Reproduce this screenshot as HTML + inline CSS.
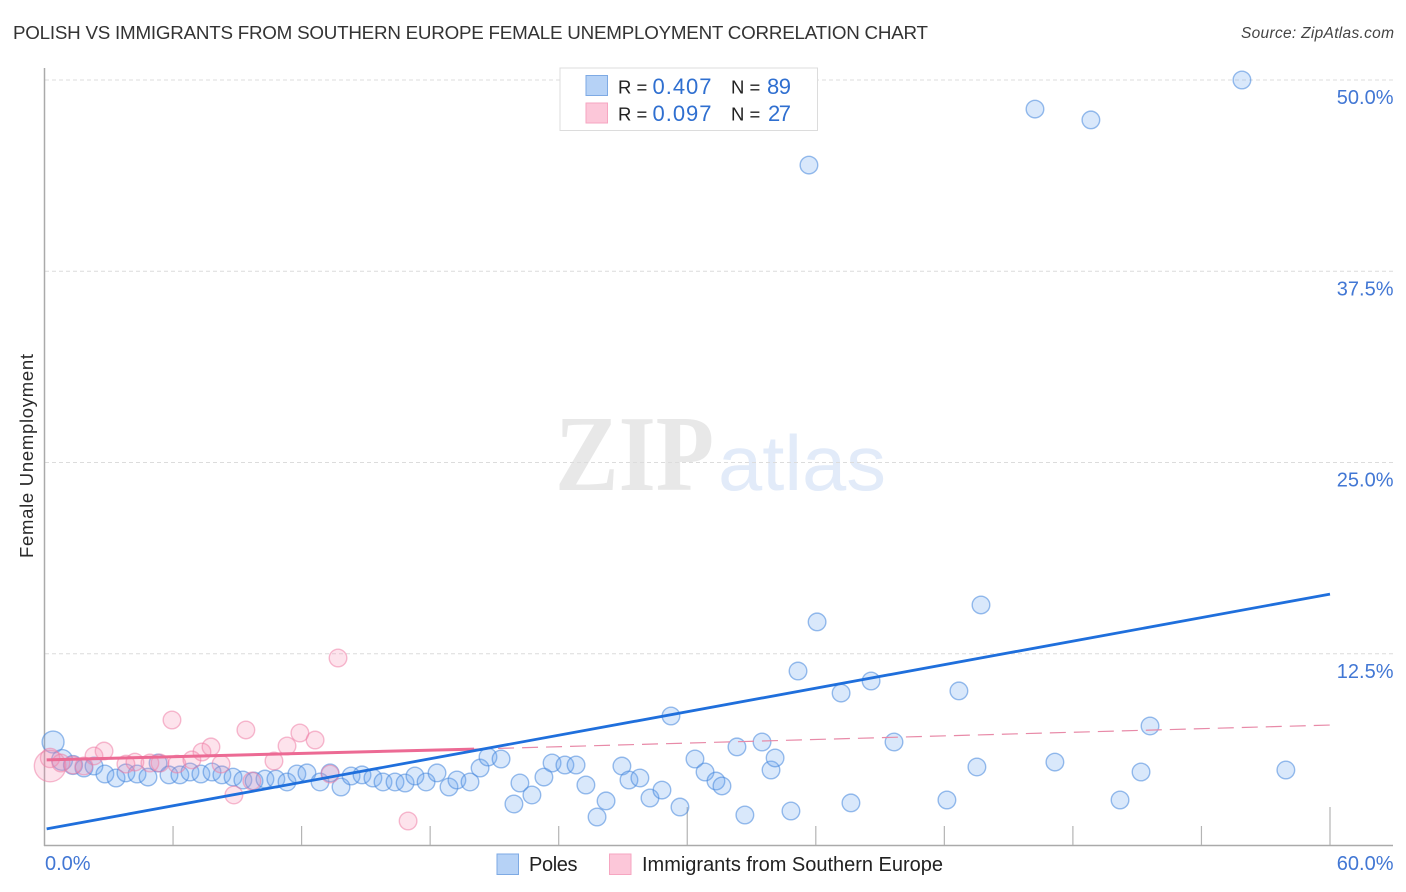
<!DOCTYPE html>
<html lang="en">
<head>
<meta charset="utf-8">
<title>Polish vs Immigrants from Southern Europe Female Unemployment Correlation Chart</title>
<style>
html,body{margin:0;padding:0;background:#fff;width:1406px;height:892px;overflow:hidden}
svg{display:block;font-family:"Liberation Sans",sans-serif}
</style>
</head>
<body>
<svg id="chart" xmlns="http://www.w3.org/2000/svg" width="1406" height="892" viewBox="0 0 1406 892">
  <rect x="0" y="0" width="1406" height="892" fill="#fff"/>
  <text x="13" y="39" font-size="18.800" fill="#333" textLength="915" lengthAdjust="spacing">POLISH VS IMMIGRANTS FROM SOUTHERN EUROPE FEMALE UNEMPLOYMENT CORRELATION CHART</text>
  <text x="1241" y="38" font-size="15.500" font-style="italic" fill="#444" textLength="153" lengthAdjust="spacing">Source: ZipAtlas.com</text>
  <g>
    <text x="555" y="490" font-family="'Liberation Serif',serif" font-weight="bold" font-size="108" fill="#e8e8e8" textLength="159" lengthAdjust="spacingAndGlyphs">ZIP</text>
    <text x="718" y="490" font-size="78" fill="#e2ebf9" textLength="168" lengthAdjust="spacingAndGlyphs">atlas</text>
  </g>
  <g id="grid"></g>
  <g id="axes"></g>
  <g id="poles-points"></g>
  <g id="immigrants-points"></g>
  <g id="trends"></g>
  <text transform="translate(33,558) rotate(-90)" font-size="18.500" fill="#2b2b2b" textLength="204" lengthAdjust="spacing">Female Unemployment</text>

  <g>
    <rect x="560" y="68" width="257.500" height="62.500" fill="#fff" stroke="#dcdcdc" stroke-width="1"/>
    <rect x="586" y="75.500" width="21.500" height="20" fill="#b6d2f6" stroke="#7eaae4" stroke-width="1"/>
    <rect x="586" y="103" width="21.500" height="20" fill="#fcc7d9" stroke="#f6a6c1" stroke-width="1"/>
    <text x="618" y="93.500" font-size="18.500" fill="#222">R =</text>
    <text x="652.500" y="94" font-size="22" fill="#2f6fd0" textLength="59" lengthAdjust="spacing">0.407</text>
    <text x="731" y="93.500" font-size="18.500" fill="#222">N =</text>
    <text x="767" y="94" font-size="22" fill="#2f6fd0" textLength="24" lengthAdjust="spacing">89</text>
    <text x="618" y="120.500" font-size="18.500" fill="#222">R =</text>
    <text x="652.500" y="121" font-size="22" fill="#2f6fd0" textLength="59" lengthAdjust="spacing">0.097</text>
    <text x="731" y="120.500" font-size="18.500" fill="#222">N =</text>
    <text x="768" y="121" font-size="22" fill="#2f6fd0" textLength="23" lengthAdjust="spacing">27</text>
  </g>

  <g>
    <rect x="497" y="854" width="21.500" height="20.500" fill="#b6d2f6" stroke="#7eaae4" stroke-width="1"/>
    <text x="529" y="871" font-size="20" fill="#222" textLength="48.500" lengthAdjust="spacing">Poles</text>
    <rect x="609.500" y="854" width="21.500" height="20.500" fill="#fcc7d9" stroke="#f6a6c1" stroke-width="1"/>
    <text x="642" y="871" font-size="20" fill="#222" textLength="301" lengthAdjust="spacing">Immigrants from Southern Europe</text>
  </g>
</svg>
<script>
// Percent values.
const xTicks = [0, 6, 12, 18, 24, 30, 36, 42, 48, 54, 60];
const yTicks = [12.5, 25, 37.5, 50];
const yTickLabels = ['12.5%', '25.0%', '37.5%', '50.0%'];
const xEndLabels = ['0.0%', '60.0%'];

const polesX = [0.40,0.82,1.33,1.84,2.31,2.82,3.34,3.80,4.32,4.83,5.30,5.81,6.32,6.79,7.30,7.82,8.28,8.80,9.26,9.78,10.29,10.80,11.32,11.78,12.25,12.86,13.33,13.84,14.31,14.82,15.33,15.80,16.36,16.83,17.29,17.81,18.32,18.88,19.25,19.86,20.33,20.70,21.31,21.91,22.19,22.75,23.31,23.69,24.29,24.81,25.27,25.79,26.21,26.95,27.28,27.79,28.26,28.82,29.24,29.66,30.36,30.83,31.34,31.62,32.32,32.69,33.49,33.91,34.10,34.84,35.17,35.68,36.06,37.18,37.64,38.58,39.65,42.12,42.68,43.52,43.71,46.23,47.16,48.84,50.20,51.18,51.60,55.89,57.94];
const polesY = [6.73,5.56,5.23,5.03,5.16,4.64,4.38,4.71,4.64,4.44,5.36,4.58,4.58,4.77,4.64,4.77,4.58,4.44,4.25,4.18,4.31,4.31,4.12,4.64,4.71,4.12,4.71,3.79,4.51,4.58,4.38,4.12,4.12,4.05,4.51,4.12,4.71,3.79,4.25,4.12,5.03,5.75,5.62,2.68,4.05,3.27,4.44,5.36,5.23,5.23,3.92,1.83,2.88,5.16,4.25,4.38,3.07,3.59,8.43,2.48,5.62,4.77,4.18,3.86,6.41,1.96,6.73,4.90,5.69,2.22,11.37,44.44,14.58,9.93,2.75,10.72,6.73,2.94,10.07,5.10,15.69,48.10,5.42,47.39,2.94,4.77,7.78,50.00,4.90];
// Relative marker weights of the first few points; all others are 1.
const polesWeight = [1.55, 1.4, 1.15];

const immigrantsX = [0.26,0.26,0.77,1.33,1.84,2.31,2.78,3.80,4.22,4.92,5.39,5.95,6.18,6.88,7.35,7.77,8.24,8.84,9.40,9.68,10.71,11.32,11.92,12.63,13.33,13.70,16.97];
const immigrantsY = [5.16,5.69,5.36,5.23,5.16,5.82,6.14,5.29,5.42,5.36,5.36,8.17,5.29,5.56,6.08,6.41,5.29,3.27,7.52,4.18,5.49,6.47,7.32,6.86,4.64,12.22,1.57];
const immigrantsWeight = [3.2, 1.2];

const polesTrendX = [0.1, 60];
const polesTrendY = [1.05, 16.4];
const immigrantsTrendX = [0.1, 20.05, 60];
const immigrantsTrendY = [5.56, 6.27, 7.84];

const NS = 'http://www.w3.org/2000/svg';
const sx = v => 44.5 + v * 21.425;
const sy = v => 845 - v * 15.3;
function make(tag, parent, attrs, text) {
  const el = document.createElementNS(NS, tag);
  for (const k in attrs) el.setAttribute(k, attrs[k]);
  if (text !== undefined) el.textContent = text;
  document.getElementById(parent).appendChild(el);
  return el;
}

yTicks.forEach(function (t, i) {
  const g = make('line', 'grid', {x1: 45, x2: 1393, y1: sy(t), y2: sy(t), stroke: '#dcdcdc', 'stroke-width': 1, 'stroke-dasharray': '4 3'});
  
  
  const l = make('text', 'axes', {x: 1393.5, y: sy(t) + 24, 'font-size': 20, 'text-anchor': 'end', fill: '#4277d4'}, yTickLabels[i]);
  
  
});

const yAxis = make('line', 'axes', {x1: 44.5, x2: 44.5, y1: 68, y2: 846, stroke: '#aaa', 'stroke-width': 1.5});


const xAxis = make('line', 'axes', {x1: 44, x2: 1393, y1: 845.5, y2: 845.5, stroke: '#aaa', 'stroke-width': 1.5});



xTicks.slice(1).forEach(function (t) {
  const top = t % 30 === 0 ? 807 : 826;
  const tick = make('line', 'axes', {x1: sx(t), x2: sx(t), y1: top, y2: 845, stroke: '#b4b4b4', 'stroke-width': 1.2});
  
  
});

const xl0 = make('text', 'axes', {x: 45, y: 870, 'font-size': 20, fill: '#4277d4'}, xEndLabels[0]);


const xl1 = make('text', 'axes', {x: 1393.5, y: 870, 'font-size': 20, 'text-anchor': 'end', fill: '#4277d4'}, xEndLabels[1]);



polesX.forEach(function (v, i) {
  const w = polesWeight[i] || 1;
  const c = make('circle', 'poles-points', {cx: sx(v), cy: sy(polesY[i]), r: 8.8 * Math.sqrt(w), fill: 'rgba(110,165,238,0.26)', stroke: 'rgba(70,135,220,0.55)', 'stroke-width': 1.4});
  
  
});

immigrantsX.forEach(function (v, i) {
  const w = immigrantsWeight[i] || 1;
  const c = make('circle', 'immigrants-points', {cx: sx(v), cy: sy(immigrantsY[i]), r: 8.8 * Math.sqrt(w), fill: 'rgba(245,140,175,0.24)', stroke: 'rgba(238,125,165,0.52)', 'stroke-width': 1.4});
  
  
});

const pinkDash = make('line', 'trends', {x1: sx(immigrantsTrendX[1]), y1: sy(immigrantsTrendY[1]), x2: sx(immigrantsTrendX[2]), y2: sy(immigrantsTrendY[2]), stroke: '#e88aa8', 'stroke-width': 1.2, 'stroke-dasharray': '16 8'});


const pinkSolid = make('line', 'trends', {x1: sx(immigrantsTrendX[0]), y1: sy(immigrantsTrendY[0]), x2: sx(immigrantsTrendX[1]), y2: sy(immigrantsTrendY[1]), stroke: '#ec6a94', 'stroke-width': 3});


const blueLine = make('line', 'trends', {x1: sx(polesTrendX[0]), y1: sy(polesTrendY[0]), x2: sx(polesTrendX[1]), y2: sy(polesTrendY[1]), stroke: '#1f6fdc', 'stroke-width': 2.8});


</script>
</body>
</html>
